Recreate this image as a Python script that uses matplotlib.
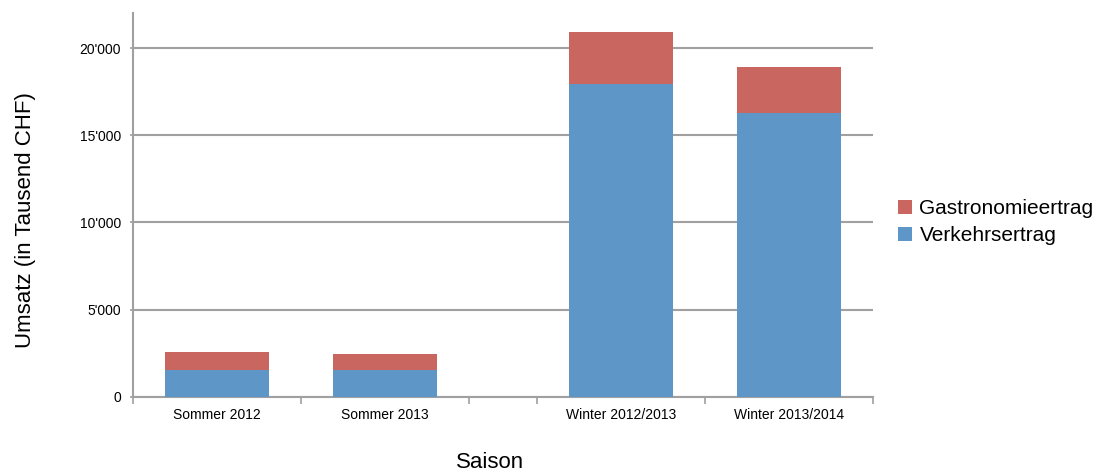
#!/usr/bin/env python3

import matplotlib.pyplot as plt
import numpy as np

plt.rcParams['font.family'] = ['Liberation Sans', 'DejaVu Sans']

seasons = ["Sommer 2012", "Sommer 2013", "Winter 2012/2013", "Winter 2013/2014"]
verkehr = [1540, 1540, 17970, 16280]
gastro = [1040, 930, 2970, 2610]

# category slots: two summer slots, a narrow empty slot, two winter slots
x = np.array([0.5, 1.5, 2.9, 3.9])
slot_edges = [0, 1, 2, 2.4, 3.4, 4.4]

red = "#C9665F"
blue = "#5F96C8"
grey = "#A0A0A0"

fig = plt.figure(figsize=(10.97, 4.74), dpi=100)
ax = fig.add_axes([0.1212, 0.163, 0.6746, 0.809])

ax.bar(x, verkehr, width=0.62, color=blue, label="Verkehrsertrag", zorder=3)
ax.bar(x, gastro, width=0.62, bottom=verkehr, color=red, label="Gastronomieertrag", zorder=3)

ax.set_xlim(0, 4.4)
ax.set_ylim(0, 22000)
ax.set_yticks([0, 5000, 10000, 15000, 20000])
ax.set_yticklabels(["0", "5'000", "10'000", "15'000", "20'000"], fontsize=10)
ax.yaxis.grid(color=grey, linewidth=1.5)
ax.set_axisbelow(True)

ax.set_xticks(slot_edges)
ax.set_xticklabels([])
ax.set_xticks(x, minor=True)
ax.set_xticklabels(seasons, minor=True, fontsize=10)
ax.tick_params(axis='x', which='major', length=5, color=grey, width=1.2)
ax.tick_params(axis='x', which='minor', length=0, pad=8)
ax.tick_params(axis='y', length=5, color=grey, width=1.2, direction='inout', pad=6)

for s in ['top', 'right']:
    ax.spines[s].set_visible(False)
for s in ['left', 'bottom']:
    ax.spines[s].set_color(grey)
    ax.spines[s].set_linewidth(1.5)

ax.set_ylabel("Umsatz (in Tausend CHF)", fontsize=16)
ax.yaxis.set_label_coords(-0.145, 0.46)
ax.set_xlabel("Saison", fontsize=16)
ax.xaxis.set_label_coords(0.482, -0.172)
ax.xaxis.label.set_va('center')
ax.yaxis.label.set_va('center')

handles, labels = ax.get_legend_handles_labels()
ax.legend(handles[::-1], labels[::-1], loc='center left', bbox_to_anchor=(1.022, 0.455),
          frameon=False, fontsize=15, handlelength=0.7, handleheight=0.7,
          handletextpad=0.35, labelspacing=0.4, borderaxespad=0)

plt.savefig("out.png", dpi=100)
